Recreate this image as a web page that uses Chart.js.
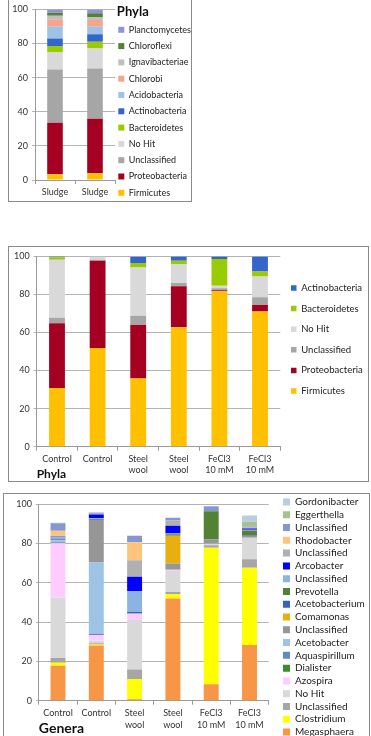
<!DOCTYPE html>
<html>
<head>
<meta charset="utf-8">
<script src="https://cdn.jsdelivr.net/npm/chart.js@4.4.1/dist/chart.umd.min.js"></script>
<style>
  html, body { margin: 0; padding: 0; background: #fff; }
  body { position: relative; width: 371px; height: 736px; overflow: hidden; }
  .panel { position: absolute; border: 1px solid #8a8a8a; background: #fff; }
  .panel canvas { display: block; }
</style>
</head>
<body>
<div class="panel" style="left:8px; top:-1px; width:182px; height:201px"><canvas id="sludge" width="182" height="201"></canvas></div>
<div class="panel" style="left:8px; top:246px; width:359px; height:234px"><canvas id="phyla" width="359" height="234"></canvas></div>
<div class="panel" style="left:3px; top:493px; width:365px; height:242px"><canvas id="genera" width="365" height="242"></canvas></div>

<script>
/* Three stacked 100% bar panels: sludge phyla, reactor phyla, reactor genera */

Chart.defaults.font.family = "Lato, 'Liberation Sans', sans-serif";
Chart.defaults.color = '#333';

/* ---------- data: sludge phyla (stack order bottom -> top) ---------- */
const sludgeLabels = ['Sludge', 'Sludge'];
const sludgeTaxa = ['Firmicutes', 'Proteobacteria', 'Unclassified', 'No Hit', 'Bacteroidetes',
  'Actinobacteria', 'Acidobacteria', 'Chlorobi', 'Ignavibacteriae', 'Chloroflexi', 'Planctomycetes'];
const sludgeValues = [
  [3.3, 3.9],
  [30.3, 32.0],
  [31.1, 29.5],
  [10.4, 11.7],
  [3.5, 3.9],
  [4.3, 4.4],
  [7.0, 4.5],
  [4.3, 3.9],
  [2.1, 1.7],
  [1.8, 2.2],
  [1.9, 2.3]
];
const sludgeColors = ['#ffc000', '#a50021', '#a6a6a6', '#d9d9d9', '#99cc00',
  '#3366cc', '#9dc3e6', '#f4a58a', '#bfbfbf', '#548235', '#8f94d9'];

/* ---------- data: reactor phyla ---------- */
const reactorLabels = ['Control', 'Control', ['Steel', 'wool'], ['Steel', 'wool'], ['FeCl3', '10 mM'], ['FeCl3', '10 mM']];
const phylaTaxa = ['Firmicutes', 'Proteobacteria', 'Unclassified', 'No Hit', 'Bacteroidetes', 'Actinobacteria'];
const phylaValues = [
  [30.9, 51.8, 35.8, 62.8, 81.7, 71.0],
  [34.0, 45.9, 28.1, 21.5, 0.5, 3.5],
  [2.8, 0.5, 4.9, 1.7, 1.0, 4.0],
  [30.6, 1.8, 25.4, 10.0, 1.4, 11.0],
  [1.2, 0, 2.3, 1.7, 14.0, 2.6],
  [0.5, 0, 3.3, 2.3, 1.4, 7.9]
];
const phylaColors = ['#ffc000', '#a50021', '#a6a6a6', '#d9d9d9', '#99cc00', '#3366cc'];

/* ---------- data: reactor genera ---------- */
const generaTaxa = ['Megasphaera', 'Clostridium', 'Unclassified', 'No Hit', 'Azospira', 'Dialister',
  'Aquaspirillum', 'Acetobacter', 'Unclassified', 'Comamonas', 'Acetobacterium', 'Prevotella',
  'Unclassified', 'Arcobacter', 'Unclassified', 'Rhodobacter', 'Unclassified', 'Eggerthella', 'Gordonibacter'];
const generaValues = [
  [17.8, 28.0, 0.8, 52.0, 8.3, 28.3],
  [1.5, 0.6, 10.2, 2.1, 69.5, 39.3],
  [2.4, 0.6, 4.9, 1.2, 1.2, 4.3],
  [30.7, 1.3, 25.1, 10.6, 0.8, 11.0],
  [27.6, 2.9, 3.2, 0.7, 0, 0],
  [0, 0, 0, 0, 0, 0],
  [0.5, 0.6, 0.4, 0, 0, 0],
  [1.0, 36.3, 0, 0, 0, 0],
  [0.3, 21.6, 0, 3.2, 2.2, 0.8],
  [0, 0, 0, 14.1, 0, 0],
  [0.5, 0.3, 0.5, 0, 0, 0.3],
  [0, 0, 0, 0.7, 14.3, 2.5],
  [0.8, 0.5, 10.5, 0.4, 0, 0.4],
  [0.3, 2.0, 7.4, 4.0, 0, 0.7],
  [0.5, 0.3, 8.4, 2.7, 0, 0.5],
  [2.5, 0, 9.1, 0, 0, 0],
  [3.8, 0.5, 3.2, 1.3, 2.5, 0.5],
  [0, 0, 0, 0, 0, 2.4],
  [0.3, 0.3, 0.3, 0, 0, 3.2]
];
const generaColors = ['#f79646', '#ffff00', '#a6a6a6', '#d9d9d9', '#ffccff', '#3b8a2e',
  '#5b8cc4', '#9dc3e6', '#969696', '#e8b00e', '#3864b4', '#548235',
  '#8db3e2', '#0000ff', '#b0b0b0', '#fcc47e', '#8497d0', '#a2c48a', '#b8cce4'];

/* ---------- legend placement: fixed width for layout, then moved into place ----------
   titleWidth only steers where the centred legend title lands. */
const legendSpot = {
  id: 'legendSpot',
  beforeLayout(chart, args, o) {
    const lg = chart.legend;
    if (!lg || lg._spotted) return;
    const fit = lg.fit;
    lg.fit = function () { fit.call(this); this.width = o.width; };
    lg._spotted = true;
  },
  afterLayout(chart, args, o) {
    const lg = chart.legend;
    lg.left = o.left;
    lg.right = chart.width;
    lg.width = o.titleWidth || (lg.right - lg.left);
    lg.top = o.top;
    lg.bottom = chart.height + 60;
    lg.height = lg.bottom - lg.top;
  }
};

function stackChart(id, labels, taxa, colors, values, g) {
  const datasets = taxa.map(function (name, i) {
    return {
      label: name, data: values[i], backgroundColor: colors[i],
      borderWidth: 0, barPercentage: 0.39, categoryPercentage: 1
    };
  });
  return new Chart(document.getElementById(id), {
    type: 'bar',
    data: { labels: labels, datasets: datasets },
    options: {
      responsive: false,
      animation: false,
      layout: { padding: { left: 0, right: 0, top: g.top, bottom: 0 } },
      plugins: {
        tooltip: { enabled: false },
        legend: {
          position: 'right', align: 'start', reverse: true,
          title: g.legendTitle ? {
            display: true, text: g.legendTitle, position: 'center', color: '#111',
            font: { size: 13, weight: 'bold', lineHeight: 1 }, padding: { top: 5, bottom: 0 }
          } : { display: false },
          labels: {
            font: { size: g.legendFont }, color: '#222', textAlign: 'left',
            boxWidth: g.box, boxHeight: g.box, padding: g.legendPad
          }
        },
        legendSpot: { width: g.legendW, left: g.legendLeft, top: g.legendTop, titleWidth: g.titleWidth }
      },
      scales: {
        x: {
          stacked: true,
          grid: { display: true, drawOnChartArea: false, tickLength: 4, color: '#9a9a9a' },
          border: { color: '#9a9a9a' },
          ticks: { font: { size: 9, lineHeight: g.tickLH }, color: '#333', padding: 3, maxRotation: 0, autoSkip: false },
          title: g.axisTitle ? {
            display: true, text: g.axisTitle, align: 'start', color: '#111',
            font: { size: g.axisTitleSize, weight: 'bold', lineHeight: 1.1 }, padding: 0
          } : { display: false },
          afterFit: function (s) { s.height = g.xh; }
        },
        y: {
          stacked: true, min: 0, max: 100,
          ticks: { stepSize: 20, font: { size: 9 }, color: '#333', padding: 4 },
          grid: { color: '#b4b4b4', tickLength: 3 },
          border: { color: '#9a9a9a' },
          afterFit: function (s) { s.width = g.yw; }
        }
      }
    },
    plugins: [legendSpot]
  });
}

stackChart('sludge', sludgeLabels, sludgeTaxa, sludgeColors, sludgeValues, {
  top: 7, yw: 26, xh: 21, legendW: 76, legendLeft: 102, legendTop: 0, titleWidth: 43.6,
  legendTitle: 'Phyla', legendFont: 9, legendPad: 7.3, box: 6, tickLH: 1.2
});

stackChart('phyla', reactorLabels, phylaTaxa, phylaColors, phylaValues, {
  top: 8.7, yw: 27.7, xh: 34.3, legendW: 87.7, legendLeft: 270.9, legendTop: 25.15,
  legendFont: 9.5, legendPad: 11.1, box: 5.5, tickLH: 1.2,
  axisTitle: 'Phyla', axisTitleSize: 12
});

stackChart('genera', reactorLabels, generaTaxa, generaColors, generaValues, {
  top: 10, yw: 34.85, xh: 35.3, legendW: 100.35, legendLeft: 276.2, legendTop: 0.22,
  legendFont: 10, legendPad: 2.78, box: 7, tickLH: 1.3,
  axisTitle: 'Genera', axisTitleSize: 14
});
</script>
</body>
</html>
